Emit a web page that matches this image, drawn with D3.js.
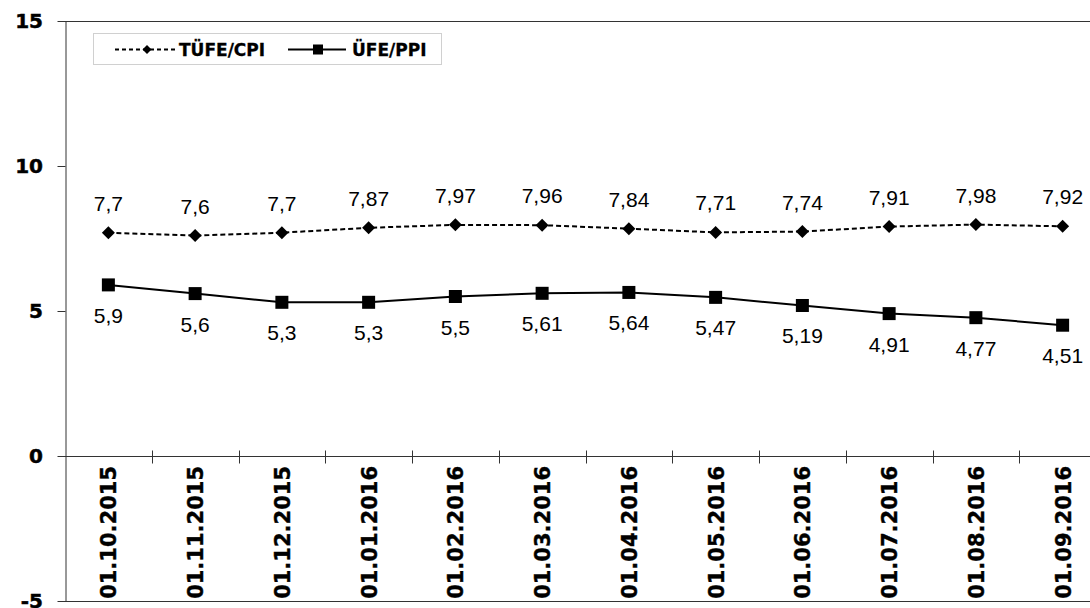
<!DOCTYPE html>
<html><head><meta charset="utf-8">
<script src="https://cdn.jsdelivr.net/npm/d3@7"></script>
<style>body{margin:0;background:#fff}svg{display:block}</style>
</head><body><svg id="c" width="1090" height="608"></svg>
<script>
const categories = ["01.10.2015","01.11.2015","01.12.2015","01.01.2016","01.02.2016","01.03.2016","01.04.2016","01.05.2016","01.06.2016","01.07.2016","01.08.2016","01.09.2016"];
const cpiValues = [7.7,7.6,7.7,7.87,7.97,7.96,7.84,7.71,7.74,7.91,7.98,7.92];
const ppiValues = [5.9,5.6,5.3,5.3,5.5,5.61,5.64,5.47,5.19,4.91,4.77,4.51];
const yTicks = [-5,0,5,10,15];
const seriesNames = ["TÜFE/CPI","ÜFE/PPI"];

(function(){
const svg = d3.select("#c");
const pL = 65, pT = 21, pB = 601, pR = 65 + 12*86.75;
const x = d3.scalePoint().domain(categories).range([pL, pR]).padding(0.5);
const y = d3.scaleLinear().domain([-5,15]).range([pB, pT]);
const fmt = v => String(v).replace(".", ",");
const axisCol = "#333";
const boldFont = "DejaVu Sans, Verdana, sans-serif";
const labelFont = "Liberation Sans, Arial, sans-serif";

svg.append("line").attr("x1",pL).attr("x2",pR).attr("y1",y(15)+0.5).attr("y2",y(15)+0.5).attr("stroke",axisCol);
svg.append("line").attr("x1",pL).attr("x2",pR).attr("y1",y(-5)+0.5).attr("y2",y(-5)+0.5).attr("stroke",axisCol);

const yAxis = svg.append("g").attr("transform",`translate(${pL+0.5},0)`)
  .call(d3.axisLeft(y).tickValues(yTicks).tickSize(8).tickSizeOuter(0).tickFormat(d=>d));
yAxis.select(".domain").attr("stroke",axisCol);
yAxis.selectAll(".tick line").attr("stroke",axisCol);
yAxis.selectAll(".tick text").remove();
yTicks.forEach(t=>{
  svg.append("text").attr("x",43).attr("y",y(t)+7)
    .attr("text-anchor","end").attr("font-family",boldFont)
    .attr("font-weight","bold").attr("font-size",20).attr("fill","#000")
    .attr("stroke","#000").attr("stroke-width",0.5).text(t);
});

const xAxisG = svg.append("g").attr("transform",`translate(0,${y(0)+0.5})`);
xAxisG.append("line").attr("x1",pL).attr("x2",pR).attr("stroke",axisCol);
const bw = x.step();
d3.range(1,12).forEach(i=>{
  const xx = Math.round(pL + i*bw)+0.5;
  xAxisG.append("line").attr("x1",xx).attr("x2",xx).attr("y1",-6).attr("y2",7).attr("stroke",axisCol);
});
categories.forEach(c=>{
  svg.append("text").attr("transform",`translate(${x(c)+8},${y(0)+10}) rotate(-90)`)
    .attr("text-anchor","end").attr("font-family",boldFont)
    .attr("font-weight","bold").attr("font-size",21).attr("fill","#000")
    .attr("stroke","#000").attr("stroke-width",0.4).text(c);
});

const lineGen = d3.line().x((d,i)=>x(categories[i])).y(d=>y(d));
svg.append("path").datum(cpiValues).attr("d",lineGen).attr("fill","none")
  .attr("stroke","#000").attr("stroke-width",2).attr("stroke-dasharray","5,3");
svg.append("path").datum(ppiValues).attr("d",lineGen).attr("fill","none")
  .attr("stroke","#000").attr("stroke-width",2);

const diamond = (cx,cy,r)=>`M${cx},${cy-r}L${cx+r},${cy}L${cx},${cy+r}L${cx-r},${cy}Z`;
svg.selectAll(".cpiM").data(cpiValues).join("path").attr("class","cpiM")
  .attr("d",(d,i)=>diamond(x(categories[i]),y(d),6.5)).attr("fill","#000");
svg.selectAll(".ppiM").data(ppiValues).join("rect").attr("class","ppiM")
  .attr("x",(d,i)=>x(categories[i])-6.5).attr("y",d=>y(d)-6.5).attr("width",13).attr("height",13).attr("fill","#000");

cpiValues.forEach((v,i)=>{
  svg.append("text").attr("x",x(categories[i])).attr("y",y(v)-22)
    .attr("text-anchor","middle").attr("font-family",labelFont)
    .attr("font-size",21).attr("fill","#000").text(fmt(v));
});
ppiValues.forEach((v,i)=>{
  svg.append("text").attr("x",x(categories[i])).attr("y",y(v)+38)
    .attr("text-anchor","middle").attr("font-family",labelFont)
    .attr("font-size",21).attr("fill","#000").text(fmt(v));
});

const lg = svg.append("g");
lg.append("rect").attr("x",93.5).attr("y",33.5).attr("width",348).attr("height",31)
  .attr("fill","#fff").attr("stroke","#d0d0d0");
lg.append("line").attr("x1",115).attr("x2",176).attr("y1",49.5).attr("y2",49.5)
  .attr("stroke","#000").attr("stroke-width",2).attr("stroke-dasharray","4,3");
lg.append("path").attr("d",diamond(147,49.5,4.5)).attr("fill","#000");
lg.append("text").attr("x",179).attr("y",55.5)
  .attr("font-family",boldFont).attr("font-weight","bold")
  .attr("font-size",17).attr("fill","#000").attr("stroke","#000").attr("stroke-width",0.3).text(seriesNames[0]);
lg.append("line").attr("x1",288).attr("x2",346).attr("y1",49.5).attr("y2",49.5)
  .attr("stroke","#000").attr("stroke-width",2);
lg.append("rect").attr("x",313).attr("y",44.5).attr("width",10).attr("height",10).attr("fill","#000");
lg.append("text").attr("x",352).attr("y",55.5)
  .attr("font-family",boldFont).attr("font-weight","bold")
  .attr("font-size",17).attr("fill","#000").attr("stroke","#000").attr("stroke-width",0.3).text(seriesNames[1]);
})();
</script></body></html>
